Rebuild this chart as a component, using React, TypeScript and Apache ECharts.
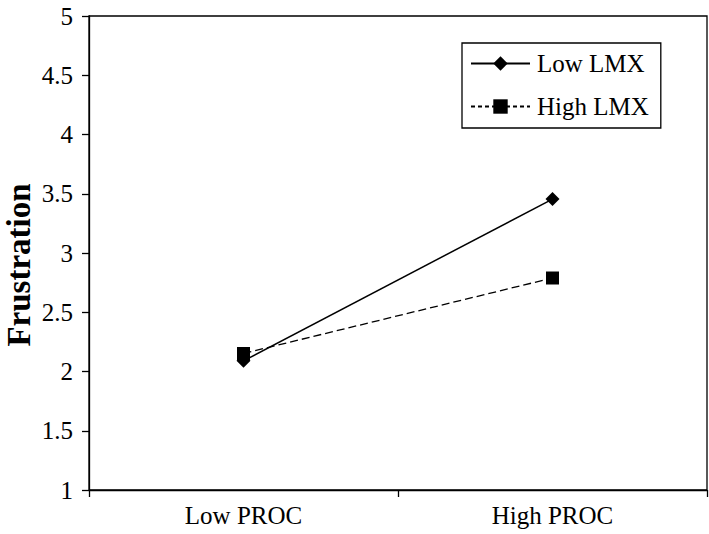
import React, { useEffect, useRef } from "react";
import * as echarts from "echarts";

const categories = ["Low PROC", "High PROC"];
const lowLMX = [2.09, 3.455];
const highLMX = [2.152, 2.789];
const seriesNames = ["Low LMX", "High LMX"];
const yTitle = "Frustration";

const FONT = "Liberation Serif";

export default function App() {
  const ref = useRef<HTMLDivElement>(null);
  useEffect(() => {
    const chart = echarts.init(ref.current!, null, { renderer: "svg" });
    chart.setOption({
      animation: false,
      backgroundColor: "#ffffff",
      textStyle: { fontFamily: FONT, color: "#000" },
      grid: {
        left: 89,
        right: 2,
        top: 16,
        bottom: 44,
        show: true,
        borderColor: "#000",
        borderWidth: 1.3,
      },
      legend: {
        orient: "vertical",
        left: 462,
        top: 43,
        padding: [8, 12, 9, 8],
        itemWidth: 59,
        itemHeight: 18,
        itemGap: 18,
        borderColor: "#000",
        borderWidth: 1.3,
        backgroundColor: "#fff",
        textStyle: { fontFamily: FONT, fontSize: 25, color: "#000", padding: [0, 0, 0, 2] },
        data: [
          { name: seriesNames[0] },
          { name: seriesNames[1], lineStyle: { type: [4, 3] } },
        ],
      },
      graphic: [
        {
          type: "text",
          x: 19,
          y: 265,
          rotation: Math.PI / 2,
          style: {
            text: yTitle,
            fontFamily: FONT,
            fontSize: 33,
            fontWeight: "bold",
            fill: "#000",
            textAlign: "center",
            textVerticalAlign: "middle",
          },
        },
      ],
      xAxis: {
        type: "category",
        data: categories,
        boundaryGap: true,
        axisLine: { lineStyle: { color: "#000", width: 1.3 } },
        axisTick: { show: true, length: 7, inside: false, lineStyle: { color: "#000", width: 1.3 } },
        axisLabel: { fontFamily: FONT, fontSize: 25, color: "#000", margin: 13 },
        splitLine: { show: false },
      },
      yAxis: {
        type: "value",
        min: 1,
        max: 5,
        interval: 0.5,
        axisLine: { show: true, lineStyle: { color: "#000", width: 1.3 } },
        axisTick: { show: true, length: 7, inside: false, lineStyle: { color: "#000", width: 1.3 } },
        axisLabel: { fontFamily: FONT, fontSize: 25, color: "#000", margin: 16 },
        splitLine: { show: false },
      },
      series: [
        {
          name: seriesNames[0],
          type: "line",
          data: lowLMX,
          symbol: "diamond",
          symbolSize: 14,
          showAllSymbol: true,
          itemStyle: { color: "#000" },
          lineStyle: { color: "#000", width: 1.5, type: "solid" },
          z: 3,
        },
        {
          name: seriesNames[1],
          type: "line",
          data: highLMX,
          symbol: "rect",
          symbolSize: 13,
          showAllSymbol: true,
          itemStyle: { color: "#000" },
          lineStyle: { color: "#000", width: 1.3, type: [8, 4] },
          z: 2,
        },
      ],
    });
    return () => chart.dispose();
  }, []);
  return <div ref={ref} style={{ width: 709, height: 534, position: "absolute", left: 0, top: 0 }} />;
}
